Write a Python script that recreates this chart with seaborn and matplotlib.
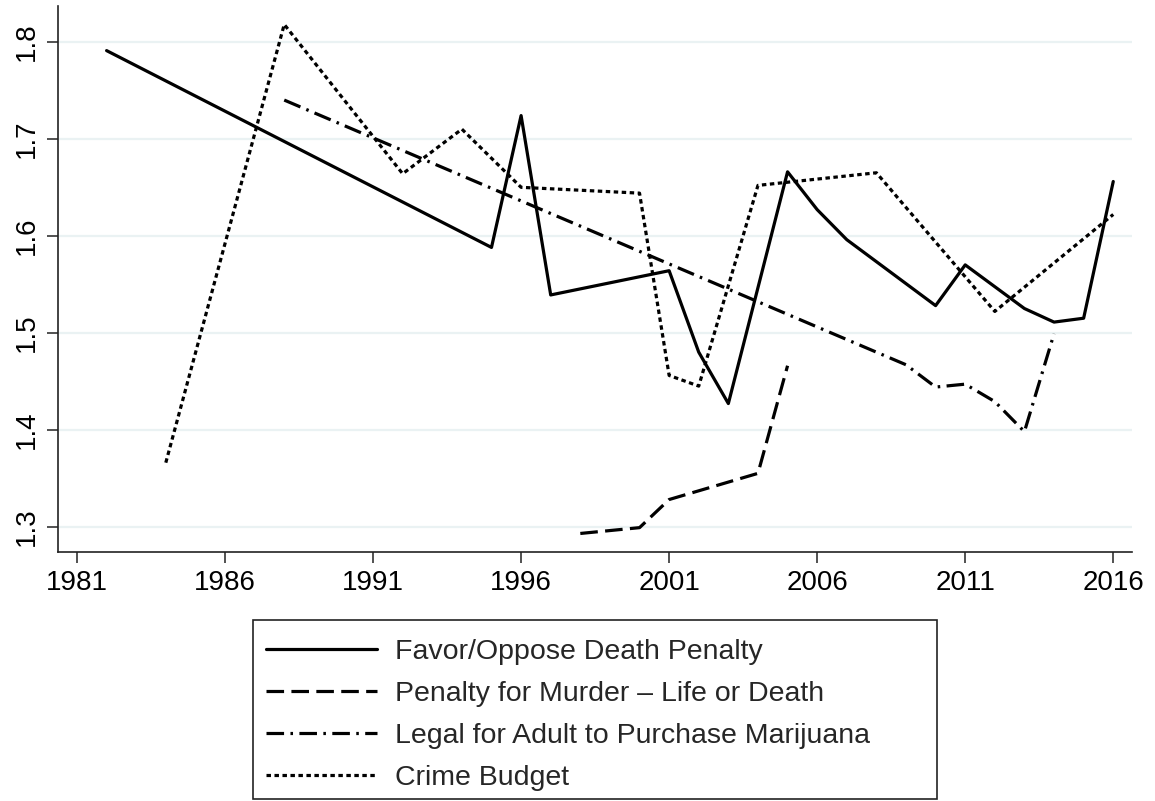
import numpy as np
import pandas as pd
import matplotlib
matplotlib.use("Agg")
import matplotlib.pyplot as plt
from matplotlib.patches import Rectangle
import seaborn as sns

# ---- data ----
years_death = [1982, 1995, 1996, 1997, 2001, 2002, 2003, 2005, 2006, 2007, 2010, 2011, 2013, 2014, 2015, 2016]
vals_death = [1.791, 1.588, 1.724, 1.539, 1.564, 1.480, 1.427, 1.666, 1.627, 1.596, 1.528, 1.570, 1.525, 1.511, 1.515, 1.656]

years_murder = [1998, 2000, 2001, 2004, 2005]
vals_murder = [1.293, 1.299, 1.328, 1.355, 1.466]

years_marij = [1988, 2009, 2010, 2011, 2012, 2013, 2014]
vals_marij = [1.740, 1.467, 1.444, 1.447, 1.429, 1.398, 1.499]

years_crime = [1984, 1988, 1992, 1994, 1996, 2000, 2001, 2002, 2004, 2008, 2012, 2016]
vals_crime = [1.366, 1.818, 1.664, 1.710, 1.650, 1.644, 1.456, 1.445, 1.652, 1.665, 1.522, 1.622]

series_names = ["Favor/Oppose Death Penalty",
                "Penalty for Murder \u2013 Life or Death",
                "Legal for Adult to Purchase Marijuana",
                "Crime Budget"]

xticks = [1981, 1986, 1991, 1996, 2001, 2006, 2011, 2016]
yticks = [1.3, 1.4, 1.5, 1.6, 1.7, 1.8]

frames = []
for name, xs, ys in zip(series_names,
                        [years_death, years_murder, years_marij, years_crime],
                        [vals_death, vals_murder, vals_marij, vals_crime]):
    frames.append(pd.DataFrame({"year": xs, "value": ys, "series": name}))
df = pd.concat(frames, ignore_index=True)

sns.set_style("white")
plt.rcParams["font.family"] = ["Liberation Sans", "DejaVu Sans"]

fig = plt.figure(figsize=(11.55, 8.01), dpi=100)
ax = fig.add_axes([0.0505, 0.311, 0.9295, 0.6815])

dash_map = {
    series_names[0]: "",
    series_names[1]: (5.5, 2.3),
    series_names[2]: (5.5, 2.0, 0.8, 2.0),
    series_names[3]: (1.4, 1.1),
}

sns.lineplot(data=df, x="year", y="value", style="series", style_order=series_names,
             dashes=dash_map, markers=False, color="black", linewidth=2.3,
             estimator=None, sort=True, ax=ax)

ax.set_xlim(1980.37, 2016.63)
ax.set_ylim(1.274, 1.837)
ax.set_xticks(xticks)
ax.set_xticklabels([str(t) for t in xticks])
ax.set_yticks(yticks)
ax.set_yticklabels([f"{t:.1f}" for t in yticks], rotation=90, va="center")
ax.set_xlabel("")
ax.set_ylabel("")

ax.grid(axis="y", color="#EAF2F3", linewidth=1.6)
ax.grid(axis="x", visible=False)
ax.set_axisbelow(True)

for side in ["top", "right"]:
    ax.spines[side].set_visible(False)
for side in ["left", "bottom"]:
    ax.spines[side].set_color("#222222")
    ax.spines[side].set_linewidth(1.2)

ax.tick_params(axis="both", which="major", direction="out", length=8, width=1.1,
               color="#222222", labelsize=20, labelcolor="black", pad=5,
               left=True, bottom=True)

sns.move_legend(ax, loc="upper left", bbox_to_anchor=(0.219, 0.2185),
                bbox_transform=fig.transFigure, title=None, frameon=False,
                fontsize=20.5, handlelength=3.9, handletextpad=0.63,
                labelspacing=0.56, borderpad=0.45, borderaxespad=0.0)
leg = ax.get_legend()
for line in leg.get_lines():
    line.set_color("black")
    line.set_linewidth(2.3)

# legend frame (Stata-style box, wider than its contents)
fig.patches.append(Rectangle((0.219, 0.0025), 0.5922, 0.2235, transform=fig.transFigure,
                             fill=False, edgecolor="#222222", linewidth=1.2, zorder=5))

fig.savefig("out.png", dpi=100, facecolor="white")
